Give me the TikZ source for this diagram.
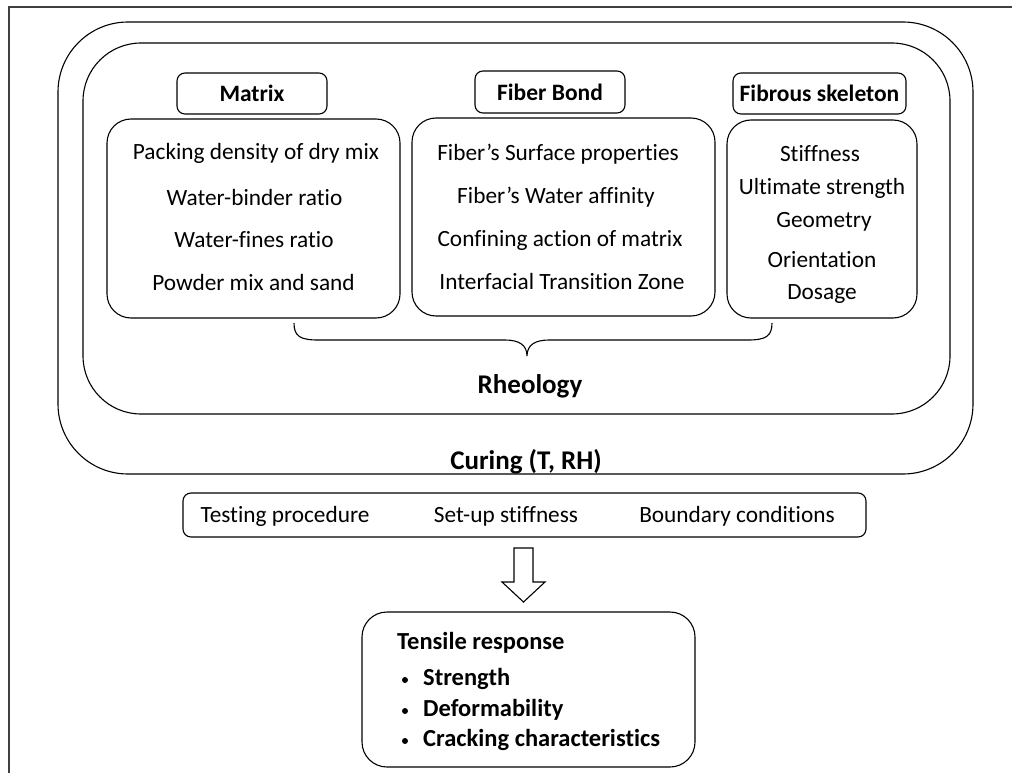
\documentclass[tikz,border=0pt]{standalone}
\usepackage{fontspec}
\setmainfont{Carlito}[Ligatures=NoCommon]
\begin{document}
\begin{tikzpicture}[x=1pt,y=-1pt,
  box/.style={draw, line width=1.1pt, inner sep=0pt},
  hdr/.style={box, rounded corners=8pt, font=\bfseries\fontsize{23.5}{28}\selectfont},
  content/.style={box, rounded corners=24pt},
  txt/.style={inner sep=0pt, font=\fontsize{23.3}{28}\selectfont},
  big/.style={inner sep=0pt, font=\bfseries\fontsize{27}{32}\selectfont},
  tens/.style={inner sep=0pt, anchor=west, font=\bfseries\fontsize{24.5}{29}\selectfont},
  bul/.style={circle, fill, inner sep=0pt, minimum size=6pt}]
\useasboundingbox (0,0) rectangle (1012,773);
% outer frame (top and left edges)
\draw[line width=1.3pt, black!75] (9,773) -- (9,7) -- (1012,7);
% curing and rheology boxes
\node[box, rounded corners=70pt, minimum width=915pt, minimum height=452pt] (curing) at (515.5,248) {};
\node[box, rounded corners=58pt, minimum width=867pt, minimum height=371pt] (rheo) at (516.5,228.5) {};
% headers
\node[hdr, minimum width=150pt, minimum height=41pt] (mhdr) at (252,93.5) {Matrix};
\node[hdr, minimum width=150pt, minimum height=42pt] (fhdr) at (550,92) {Fiber Bond};
\node[hdr, minimum width=173pt, minimum height=41pt] (shdr) at (819.5,93.5) {Fibrous skeleton};
% content boxes
\node[content, minimum width=293pt, minimum height=199pt] (mbox) at (253.5,218.5) {};
\node[content, minimum width=303pt, minimum height=198pt] (fbox) at (563.5,217) {};
\node[content, minimum width=190pt, minimum height=198pt] (sbox) at (822,219) {};
% matrix texts
\node[txt] (m1) at (256,153) {Packing density of dry mix};
\node[txt] (m2) at (254.5,197) {Water-binder ratio};
\node[txt] (m3) at (254,240) {Water-fines ratio};
\node[txt] (m4) at (253.5,282) {Powder mix and sand};
% fiber bond texts
\node[txt] (f1) at (558,154) {Fiber’s Surface properties};
\node[txt] (f2) at (556,197) {Fiber’s Water affinity};
\node[txt] (f3) at (560,240) {Confining action of matrix};
\node[txt] (f4) at (562,281) {Interfacial Transition Zone};
% fibrous skeleton texts
\node[txt] (s1) at (820,154) {Stiffness};
\node[txt] (s2) at (822,188) {Ultimate strength};
\node[txt] (s3) at (824,222) {Geometry};
\node[txt] (s4) at (822,260) {Orientation};
\node[txt] (s5) at (822,294) {Dosage};
% brace
\draw[line width=1.1pt] (294,323) .. controls (294,336) and (300,340) .. (318,340)
  -- (505,340) .. controls (519,340) and (527,345) .. (527,356)
  .. controls (527,345) and (535,340) .. (549,340)
  -- (748,340) .. controls (766,340) and (772,336) .. (772,323);
\node[big] (rheolabel) at (530,386) {Rheology};
\node[big] (curinglabel) at (526,462) {Curing (T, RH)};
% testing box
\node[box, rounded corners=8pt, minimum width=683pt, minimum height=44pt] (test) at (524.5,515) {};
\node[txt] (t1) at (285,516) {Testing procedure};
\node[txt] (t2) at (506,516) {Set-up stiffness};
\node[txt] (t3) at (737,516) {Boundary conditions};
% hollow arrow
\draw[line width=1.1pt, line join=miter] (514,548) -- (533,548) -- (533,582) -- (545,582)
  -- (523.5,602) -- (502,582) -- (514,582) -- cycle;
% tensile box
\node[box, rounded corners=25pt, minimum width=333pt, minimum height=155pt] (tens) at (528.5,689.5) {};
\node[tens] (tr) at (397,643) {Tensile response};
\node[bul] (b1) at (405,680) {};
\node[bul] (b2) at (405,711) {};
\node[bul] (b3) at (405,741) {};
\node[tens] (i1) at (423,679) {Strength};
\node[tens] (i2) at (423,710) {Deformability};
\node[tens] (i3) at (423,740) {Cracking characteristics};
\end{tikzpicture}
\end{document}
